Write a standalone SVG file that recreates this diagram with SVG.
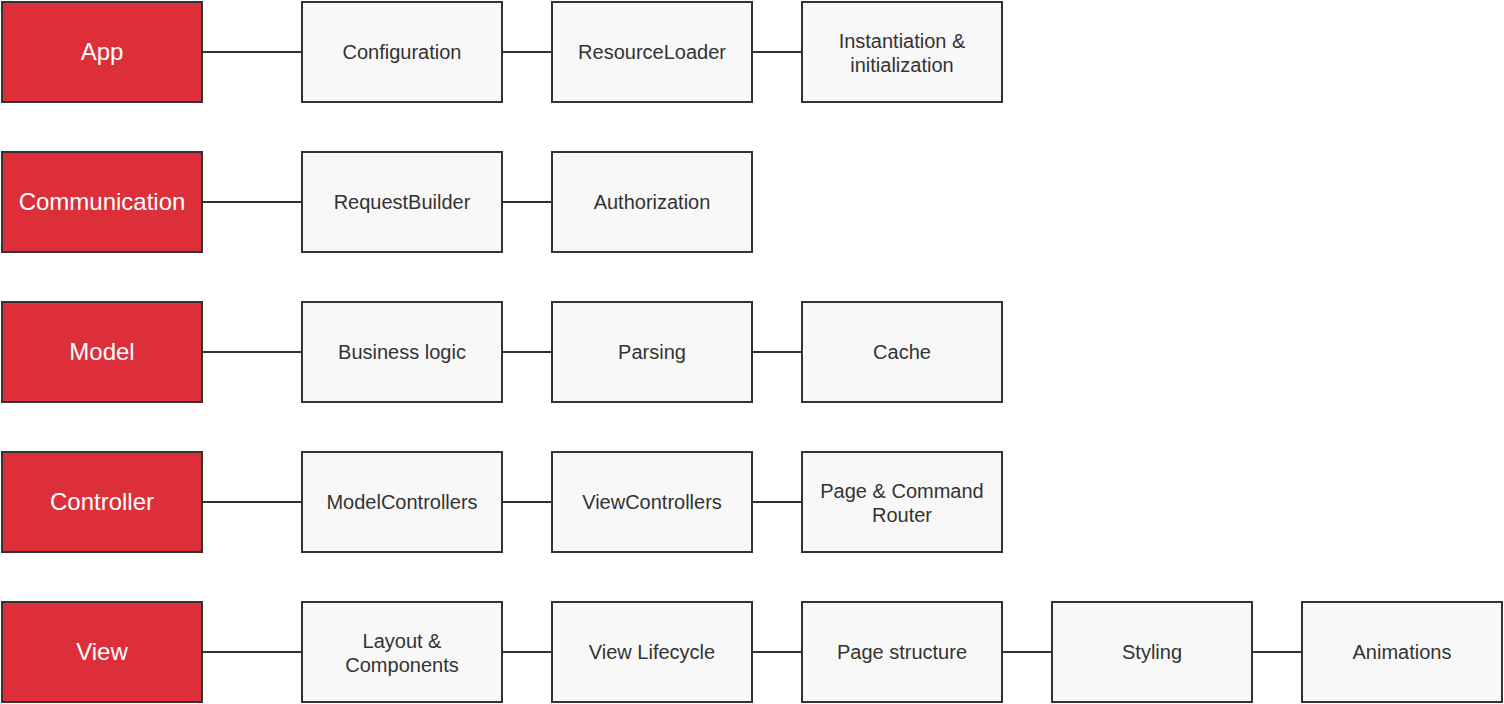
<svg xmlns="http://www.w3.org/2000/svg" width="1504" height="704" viewBox="0 0 1504 704">
<style>
.r{fill:#dc2f3a;stroke:#333;stroke-width:2}
.g{fill:#f8f8f8;stroke:#333;stroke-width:2}
.tr{font-family:"Liberation Sans",Arial,sans-serif;font-size:24px;fill:#fff;text-anchor:middle;dominant-baseline:central}
.tg{font-family:"Liberation Sans",Arial,sans-serif;font-size:20px;fill:#333;text-anchor:middle;dominant-baseline:central}
.c line{stroke:#333;stroke-width:2}
</style>
<rect width="1504" height="704" fill="#fff"/>
<g class="c" id="connectors">
<line x1="202" y1="52" x2="302" y2="52"/><line x1="502" y1="52" x2="552" y2="52"/><line x1="752" y1="52" x2="802" y2="52"/>
<line x1="202" y1="202" x2="302" y2="202"/><line x1="502" y1="202" x2="552" y2="202"/>
<line x1="202" y1="352" x2="302" y2="352"/><line x1="502" y1="352" x2="552" y2="352"/><line x1="752" y1="352" x2="802" y2="352"/>
<line x1="202" y1="502" x2="302" y2="502"/><line x1="502" y1="502" x2="552" y2="502"/><line x1="752" y1="502" x2="802" y2="502"/>
<line x1="202" y1="652" x2="302" y2="652"/><line x1="502" y1="652" x2="552" y2="652"/><line x1="752" y1="652" x2="802" y2="652"/><line x1="1002" y1="652" x2="1052" y2="652"/><line x1="1252" y1="652" x2="1302" y2="652"/>
</g>
<g id="app"><rect class="r" x="2" y="2" width="200" height="100"/><text class="tr" x="102" y="51">App</text></g>
<g id="configuration"><rect class="g" x="302" y="2" width="200" height="100"/><text class="tg" x="402" y="52">Configuration</text></g>
<g id="resourceloader"><rect class="g" x="552" y="2" width="200" height="100"/><text class="tg" x="652" y="52">ResourceLoader</text></g>
<g id="instantiation"><rect class="g" x="802" y="2" width="200" height="100"/><text class="tg" x="902" y="41">Instantiation &amp;</text><text class="tg" x="902" y="65">initialization</text></g>

<g id="communication"><rect class="r" x="2" y="152" width="200" height="100"/><text class="tr" x="102" y="201">Communication</text></g>
<g id="requestbuilder"><rect class="g" x="302" y="152" width="200" height="100"/><text class="tg" x="402" y="202">RequestBuilder</text></g>
<g id="authorization"><rect class="g" x="552" y="152" width="200" height="100"/><text class="tg" x="652" y="202">Authorization</text></g>

<g id="model"><rect class="r" x="2" y="302" width="200" height="100"/><text class="tr" x="102" y="351">Model</text></g>
<g id="businesslogic"><rect class="g" x="302" y="302" width="200" height="100"/><text class="tg" x="402" y="352">Business logic</text></g>
<g id="parsing"><rect class="g" x="552" y="302" width="200" height="100"/><text class="tg" x="652" y="352">Parsing</text></g>
<g id="cache"><rect class="g" x="802" y="302" width="200" height="100"/><text class="tg" x="902" y="352">Cache</text></g>

<g id="controller"><rect class="r" x="2" y="452" width="200" height="100"/><text class="tr" x="102" y="501">Controller</text></g>
<g id="modelcontrollers"><rect class="g" x="302" y="452" width="200" height="100"/><text class="tg" x="402" y="502">ModelControllers</text></g>
<g id="viewcontrollers"><rect class="g" x="552" y="452" width="200" height="100"/><text class="tg" x="652" y="502">ViewControllers</text></g>
<g id="router"><rect class="g" x="802" y="452" width="200" height="100"/><text class="tg" x="902" y="491">Page &amp; Command</text><text class="tg" x="902" y="515">Router</text></g>

<g id="view"><rect class="r" x="2" y="602" width="200" height="100"/><text class="tr" x="102" y="651">View</text></g>
<g id="layout"><rect class="g" x="302" y="602" width="200" height="100"/><text class="tg" x="402" y="641">Layout &amp;</text><text class="tg" x="402" y="665">Components</text></g>
<g id="viewlifecycle"><rect class="g" x="552" y="602" width="200" height="100"/><text class="tg" x="652" y="652">View Lifecycle</text></g>
<g id="pagestructure"><rect class="g" x="802" y="602" width="200" height="100"/><text class="tg" x="902" y="652">Page structure</text></g>
<g id="styling"><rect class="g" x="1052" y="602" width="200" height="100"/><text class="tg" x="1152" y="652">Styling</text></g>
<g id="animations"><rect class="g" x="1302" y="602" width="200" height="100"/><text class="tg" x="1402" y="652">Animations</text></g>
</svg>
